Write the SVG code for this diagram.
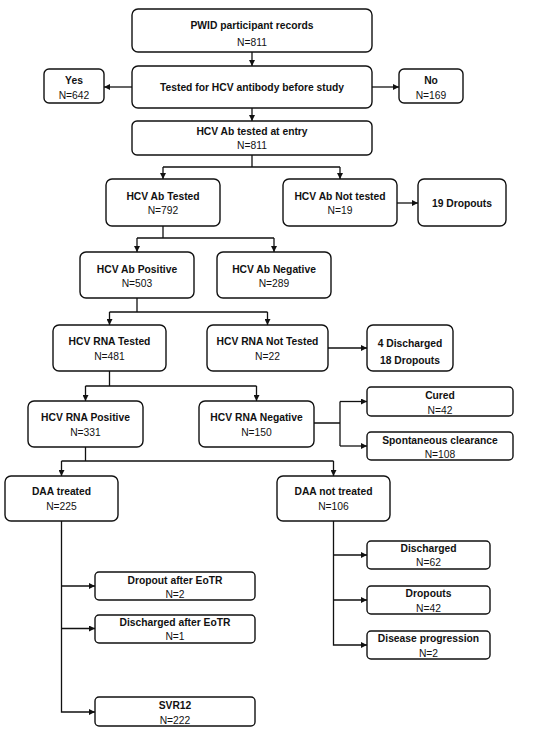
<svg xmlns="http://www.w3.org/2000/svg" width="550" height="733" viewBox="0 0 550 733">
<style>
.box{fill:#fff;stroke:#111;stroke-width:1.4}
.t{font-family:"Liberation Sans",Arial,sans-serif;font-size:10.3px;fill:#111;text-anchor:middle}
.b{font-weight:bold}
.c{fill:none;stroke:#111;stroke-width:1.3}
</style>
<defs>
<marker id="ah" markerWidth="6" markerHeight="6" refX="6" refY="3" orient="auto" markerUnits="userSpaceOnUse">
<path d="M0,0 L6,3 L0,6 Z" fill="#111"/>
</marker>
</defs>
<rect width="550" height="733" fill="#fff"/>
<g id="connectors">
<path class="c" d="M252,52 V66" marker-end="url(#ah)"/>
<path class="c" d="M132,87 H104" marker-end="url(#ah)"/>
<path class="c" d="M372,87 H399" marker-end="url(#ah)"/>
<path class="c" d="M252,108 V121" marker-end="url(#ah)"/>
<path class="c" d="M252,155 V167 M163,167 H340"/>
<path class="c" d="M163,167 V179" marker-end="url(#ah)"/>
<path class="c" d="M340,167 V179" marker-end="url(#ah)"/>
<path class="c" d="M397,203 H418" marker-end="url(#ah)"/>
<path class="c" d="M163,226 V238 M137,238 H274"/>
<path class="c" d="M137,238 V252" marker-end="url(#ah)"/>
<path class="c" d="M274,238 V252" marker-end="url(#ah)"/>
<path class="c" d="M137,298 V312 M109.5,312 H267.5"/>
<path class="c" d="M109.5,312 V325" marker-end="url(#ah)"/>
<path class="c" d="M267.5,312 V325" marker-end="url(#ah)"/>
<path class="c" d="M328,348 H367" marker-end="url(#ah)"/>
<path class="c" d="M109.5,371 V386 M85.5,386 H256.5"/>
<path class="c" d="M85.5,386 V401" marker-end="url(#ah)"/>
<path class="c" d="M256.5,386 V401" marker-end="url(#ah)"/>
<path class="c" d="M314,423 H340 M340,401.5 V446"/>
<path class="c" d="M340,401.5 H367" marker-end="url(#ah)"/>
<path class="c" d="M340,446 H367" marker-end="url(#ah)"/>
<path class="c" d="M85.5,447 V461 M61.5,461 H333.5"/>
<path class="c" d="M61.5,461 V476" marker-end="url(#ah)"/>
<path class="c" d="M333.5,461 V476" marker-end="url(#ah)"/>
<path class="c" d="M61.5,521 V712 H95" marker-end="url(#ah)"/>
<path class="c" d="M61.5,586 H95" marker-end="url(#ah)"/>
<path class="c" d="M61.5,628.5 H95" marker-end="url(#ah)"/>
<path class="c" d="M333.5,521 V645 H367" marker-end="url(#ah)"/>
<path class="c" d="M333.5,555 H367" marker-end="url(#ah)"/>
<path class="c" d="M333.5,600 H367" marker-end="url(#ah)"/>
</g>
<g id="pwid"><rect class="box" x="132" y="9" width="240" height="43" rx="6"/><text class="t b" x="252" y="28.6">PWID participant records</text><text class="t" x="252" y="45.6">N=811</text></g>
<g id="tested"><rect class="box" x="132" y="66" width="240" height="42" rx="6"/><text class="t b" x="252" y="90.6">Tested for HCV antibody before study</text></g>
<g id="yes"><rect class="box" x="44" y="69" width="60" height="34" rx="5"/><text class="t b" x="74" y="83.6">Yes</text><text class="t" x="74" y="98.6">N=642</text></g>
<g id="no"><rect class="box" x="399" y="69" width="64" height="34" rx="5"/><text class="t b" x="431" y="83.6">No</text><text class="t" x="431" y="98.6">N=169</text></g>
<g id="entry"><rect class="box" x="132" y="121" width="240" height="34" rx="5"/><text class="t b" x="252" y="135.3">HCV Ab tested at entry</text><text class="t" x="252" y="149.3">N=811</text></g>
<g id="abTested"><rect class="box" x="106" y="179" width="114" height="47" rx="6"/><text class="t b" x="163" y="199.6">HCV Ab Tested</text><text class="t" x="163" y="214.3">N=792</text></g>
<g id="abNotTested"><rect class="box" x="283" y="179" width="114" height="47" rx="6"/><text class="t b" x="340" y="199.6">HCV Ab Not tested</text><text class="t" x="340" y="214.3">N=19</text></g>
<g id="dropouts19"><rect class="box" x="418" y="179" width="88" height="47" rx="6"/><text class="t b" x="462" y="206.9">19 Dropouts</text></g>
<g id="abPos"><rect class="box" x="80" y="252" width="114" height="46" rx="6"/><text class="t b" x="137" y="272.9">HCV Ab Positive</text><text class="t" x="137" y="286.9">N=503</text></g>
<g id="abNeg"><rect class="box" x="217" y="252" width="114" height="46" rx="6"/><text class="t b" x="274" y="272.9">HCV Ab Negative</text><text class="t" x="274" y="286.9">N=289</text></g>
<g id="rnaTested"><rect class="box" x="53" y="325" width="113" height="46" rx="6"/><text class="t b" x="109.5" y="345.3">HCV RNA Tested</text><text class="t" x="109.5" y="360.3">N=481</text></g>
<g id="rnaNotTested"><rect class="box" x="207" y="325" width="121" height="46" rx="6"/><text class="t b" x="267.5" y="345.3">HCV RNA Not Tested</text><text class="t" x="267.5" y="360.3">N=22</text></g>
<g id="discharged4"><rect class="box" x="367" y="325" width="86" height="46" rx="6"/><text class="t b" x="410" y="346.9">4 Discharged</text><text class="t b" x="410" y="363.6">18 Dropouts</text></g>
<g id="rnaPos"><rect class="box" x="28" y="401" width="115" height="46" rx="6"/><text class="t b" x="85.5" y="420.9">HCV RNA Positive</text><text class="t" x="85.5" y="435.9">N=331</text></g>
<g id="rnaNeg"><rect class="box" x="199" y="401" width="115" height="46" rx="6"/><text class="t b" x="256.5" y="420.9">HCV RNA Negative</text><text class="t" x="256.5" y="435.9">N=150</text></g>
<g id="cured"><rect class="box" x="367" y="387" width="146" height="29" rx="4"/><text class="t b" x="440" y="398.6">Cured</text><text class="t" x="440" y="413.6">N=42</text></g>
<g id="spont"><rect class="box" x="367" y="432" width="146" height="28" rx="4"/><text class="t b" x="440" y="443.6">Spontaneous clearance</text><text class="t" x="440" y="457.6">N=108</text></g>
<g id="daaTreated"><rect class="box" x="5" y="476" width="113" height="45" rx="6"/><text class="t b" x="61.5" y="495.3">DAA treated</text><text class="t" x="61.5" y="510.3">N=225</text></g>
<g id="daaNotTreated"><rect class="box" x="277" y="476" width="113" height="45" rx="6"/><text class="t b" x="333.5" y="495.3">DAA not treated</text><text class="t" x="333.5" y="510.3">N=106</text></g>
<g id="dropEoTR"><rect class="box" x="95" y="572" width="160" height="28" rx="4"/><text class="t b" x="175" y="583.6">Dropout after EoTR</text><text class="t" x="175" y="597.6">N=2</text></g>
<g id="disEoTR"><rect class="box" x="95" y="615" width="160" height="28" rx="4"/><text class="t b" x="175" y="625.9">Discharged after EoTR</text><text class="t" x="175" y="640.3">N=1</text></g>
<g id="svr12"><rect class="box" x="95" y="697" width="160" height="29" rx="4"/><text class="t b" x="175" y="708.6">SVR12</text><text class="t" x="175" y="723.6">N=222</text></g>
<g id="discharged"><rect class="box" x="367" y="541" width="123" height="28" rx="4"/><text class="t b" x="428.5" y="551.9">Discharged</text><text class="t" x="428.5" y="566.3">N=62</text></g>
<g id="dropouts"><rect class="box" x="367" y="586" width="123" height="28" rx="4"/><text class="t b" x="428.5" y="596.9">Dropouts</text><text class="t" x="428.5" y="611.9">N=42</text></g>
<g id="progression"><rect class="box" x="367" y="631" width="123" height="28" rx="4"/><text class="t b" x="428.5" y="641.9">Disease progression</text><text class="t" x="428.5" y="656.9">N=2</text></g>
</svg>
